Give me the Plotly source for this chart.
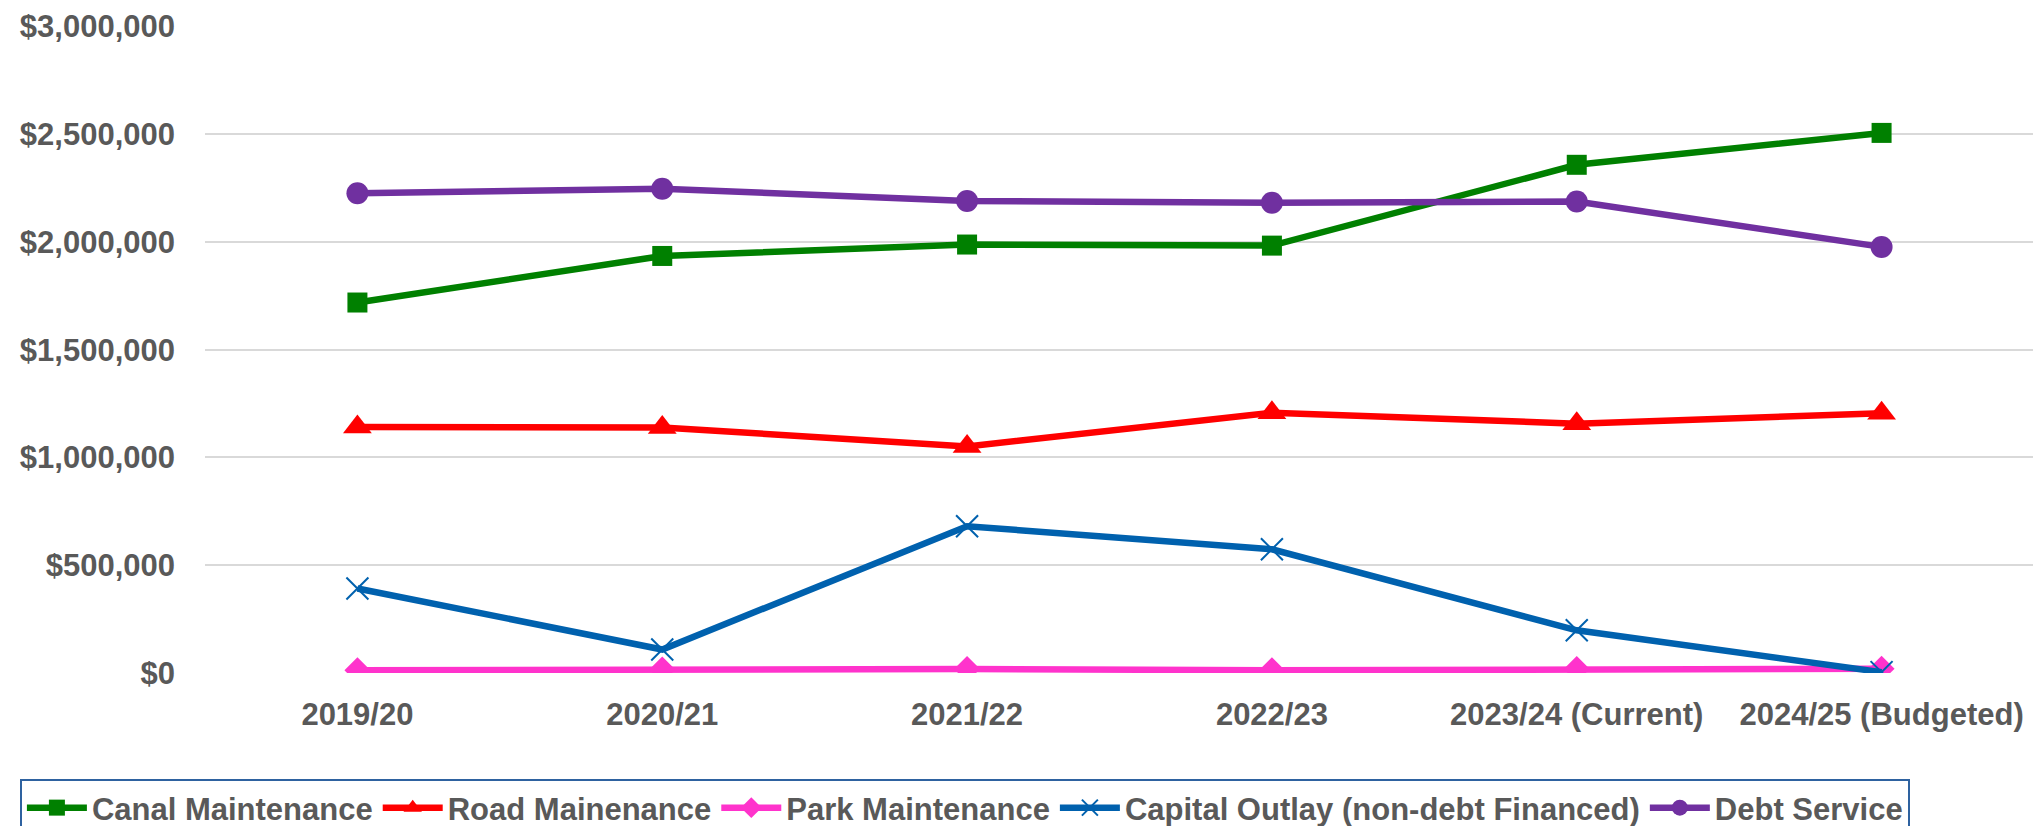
import plotly.graph_objects as go

categories = ["2019/20", "2020/21", "2021/22", "2022/23", "2023/24 (Current)", "2024/25 (Budgeted)"]
canal_maintenance = [1719000, 1935000, 1988000, 1983000, 2358000, 2506000]
road_maintenance = [1141000, 1139000, 1051000, 1208000, 1157000, 1205000]
park_maintenance = [12500, 16000, 18500, 12500, 18500, 20000]
capital_outlay = [392000, 109000, 681000, 574000, 198000, 4000]
debt_service = [2226000, 2247000, 2190000, 2182000, 2188000, 1977000]

y_ticks = [0, 500000, 1000000, 1500000, 2000000, 2500000, 3000000]

FONT = "Liberation Sans, Arial, sans-serif"
GREY = "#595959"

series = [
    ("Canal Maintenance", canal_maintenance, "#008000", "square", 20, None),
    ("Road Mainenance", road_maintenance, "#FF0000", "triangle-up", 25, None),
    ("Park Maintenance", park_maintenance, "#FF33CC", "diamond", 20, None),
    ("Capital Outlay (non-debt Financed)", capital_outlay, "#0061AE", "x-thin-open", 22, 2),
    ("Debt Service", debt_service, "#7030A0", "circle", 22, None),
]

fig = go.Figure()
for name, vals, color, sym, size, mlw in series:
    marker = dict(symbol=sym, size=size, color=color)
    if mlw:
        marker["line"] = dict(color=color, width=mlw)
    fig.add_trace(go.Scatter(
        x=categories, y=vals, name=name, mode="lines+markers",
        line=dict(color=color, width=6.5),
        marker=marker,
    ))

fig.update_layout(
    width=2041, height=826,
    margin=dict(l=197, r=15, t=18, b=161, autoexpand=False),
    paper_bgcolor="white", plot_bgcolor="white",
    font=dict(family=FONT, size=31, color=GREY, weight="bold"),
    showlegend=True,
    legend=dict(
        orientation="h",
        x=-0.1012, xanchor="left",
        y=-0.1638, yanchor="top",
        bordercolor="#2E62A0", borderwidth=2,
        font=dict(family=FONT, size=31, color=GREY, weight="bold"),
        itemwidth=60,
        tracegroupgap=0,
        bgcolor="white",
    ),
)

fig.update_xaxes(
    type="category",
    range=[-0.5, 5.5],
    showgrid=False, zeroline=False, showline=False,
    ticks="",
    tickfont=dict(family=FONT, size=31, color=GREY, weight="bold"),
    ticklabelstandoff=20,
    automargin=False,
)
fig.update_yaxes(
    range=[0, 3002000],
    tickvals=y_ticks,
    tickformat="$,.0f",
    showgrid=True, gridcolor="#D9D9D9", gridwidth=2,
    zeroline=False, showline=False,
    ticks="",
    tickfont=dict(family=FONT, size=31, color=GREY, weight="bold"),
    ticklabelstandoff=29,
    automargin=False,
)

fig.write_html("out.html")
